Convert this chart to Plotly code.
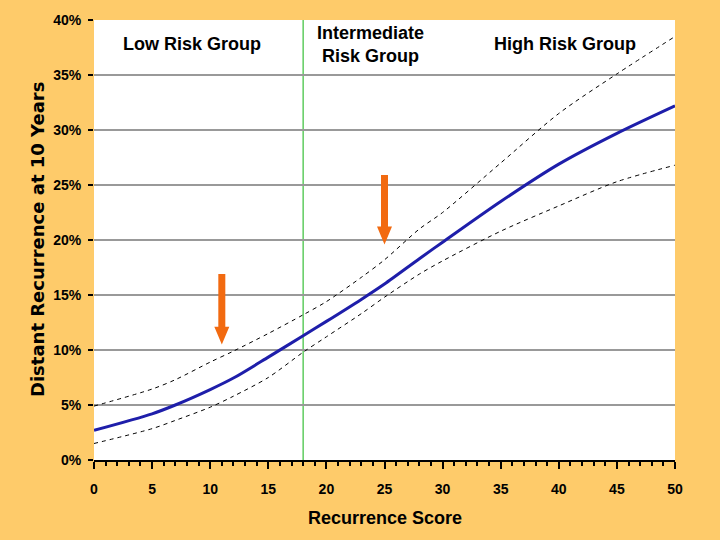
import plotly.graph_objects as go

# Data
score = [0, 5, 7, 10, 12, 15, 18, 20, 23, 25, 28, 30, 35, 40, 45, 50]
risk = [2.7, 4.2, 5.0, 6.4, 7.45, 9.35, 11.3, 12.6, 14.6, 16.0, 18.3, 19.8, 23.5, 26.9, 29.7, 32.2]
upper = [4.9, 6.45, 7.3, 8.9, 9.9, 11.5, 13.2, 14.4, 16.6, 18.2, 21.0, 22.5, 27.0, 31.5, 35.1, 38.5]
lower = [1.5, 2.85, 3.6, 4.8, 5.8, 7.5, 9.8, 11.2, 13.3, 14.8, 16.9, 18.1, 20.8, 23.1, 25.3, 26.8]

arrow_x = [11, 25]
arrow_top = [16.9, 25.9]
arrow_tip = [10.5, 19.6]

group_labels = ["Low Risk Group", "Intermediate<br>Risk Group", "High Risk Group"]
group_x = [8.4, 23.8, 40.5]
cutoff = 18

BG = "#FECB6A"
ORANGE = "#F26A10"
BLUE = "#1E1EAA"
FONT = "Liberation Sans, Arial, sans-serif"

fig = go.Figure()

for ys in (upper, lower):
    fig.add_trace(go.Scatter(x=score, y=ys, mode="lines",
                             line=dict(color="black", width=1, dash="4px,4px", shape="spline", smoothing=0.8),
                             hoverinfo="skip", showlegend=False))

fig.add_trace(go.Scatter(x=score, y=risk, mode="lines",
                         line=dict(color=BLUE, width=3, shape="spline", smoothing=0.8),
                         showlegend=False))

px_x = 581 / 50.0
px_y = 444 / 40.0
sw = 3.5 / px_x
hw = 7.5 / px_x
hl = 18 / px_y
for ax, at, tip in zip(arrow_x, arrow_top, arrow_tip):
    hs = tip + hl
    xs = [ax - sw, ax + sw, ax + sw, ax + hw, ax, ax - hw, ax - sw, ax - sw]
    ys = [at, at, hs, hs, tip, hs, hs, at]
    fig.add_trace(go.Scatter(x=xs, y=ys, mode="lines", fill="toself",
                             fillcolor=ORANGE, line=dict(color=ORANGE, width=0),
                             hoverinfo="skip", showlegend=False))

fig.add_shape(type="line", x0=cutoff, x1=cutoff, y0=0, y1=40, xref="x", yref="y",
              line=dict(color="#5FCC5F", width=1.5), layer="below")

for gx, gl in zip(group_x, group_labels):
    fig.add_annotation(x=gx, y=37.8, text=gl, showarrow=False,
                       font=dict(family=FONT, size=18, color="black", weight="bold"))

fig.add_annotation(xref="paper", yref="paper", x=0, y=0.5, xshift=-57, textangle=-90,
                   xanchor="center", yanchor="middle",
                   text="Distant Recurrence at 10 Years", showarrow=False,
                   font=dict(family="DejaVu Sans, Verdana, sans-serif", size=18, color="black", weight="bold"))
fig.add_annotation(xref="paper", yref="paper", x=0.5, y=0, yshift=-58,
                   xanchor="center", yanchor="middle",
                   text="Recurrence Score", showarrow=False,
                   font=dict(family=FONT, size=18, color="black", weight="bold"))

fig.update_layout(
    width=720, height=540,
    paper_bgcolor=BG, plot_bgcolor="white",
    margin=dict(l=94, r=45, t=16, b=80),
    showlegend=False,
)
fig.update_xaxes(range=[0, 50], dtick=5, tick0=0, showgrid=False, zeroline=False,
                 showline=True, linecolor="black", linewidth=2,
                 ticks="outside", ticklen=7, tickwidth=2, tickcolor="black",
                 ticklabelstandoff=8,
                 minor=dict(dtick=1, ticks="outside", ticklen=4, tickwidth=1.5, tickcolor="black", showgrid=False),
                 tickfont=dict(family=FONT, size=14, color="black", weight="bold"))
fig.update_yaxes(range=[0, 40], dtick=5, tick0=0, ticksuffix="%",
                 showgrid=True, gridcolor="#999999", gridwidth=2, zeroline=False,
                 showline=False,
                 ticks="outside", ticklen=5, tickwidth=1.5, tickcolor="black",
                 ticklabelstandoff=4,
                 tickfont=dict(family=FONT, size=14, color="black", weight="bold"))

fig.write_html("out.html", config={"displayModeBar": False},
               post_script="document.body.style.margin='0';")
